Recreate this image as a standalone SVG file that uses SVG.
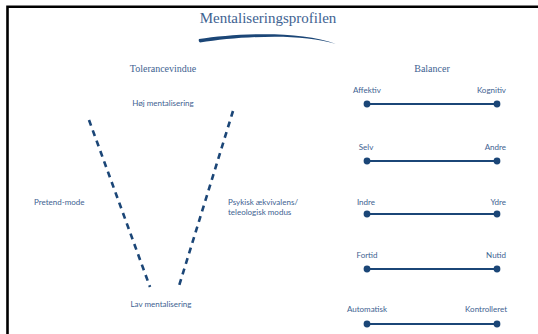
<svg xmlns="http://www.w3.org/2000/svg" width="538" height="334" viewBox="0 0 538 334">
<style>
.serif{font-family:"Liberation Serif","DejaVu Serif",serif;fill:#3e6291}
.sans{font-family:"Lato","Liberation Sans",sans-serif;font-size:8px;fill:#3e6291}
.dash{stroke:#1b4677;stroke-width:2.6;stroke-dasharray:6 5;fill:none}
.bar{stroke:#1b4677;stroke-width:2;fill:none}
.dot{fill:#1b4677}
</style>
<defs>
<g id="bal">
<line class="bar" x1="367" y1="0" x2="497" y2="0"/>
<circle class="dot" cx="367" cy="0" r="3.4"/>
<circle class="dot" cx="497" cy="0" r="3.4"/>
</g>
</defs>
<rect x="0" y="0" width="538" height="334" fill="#fff"/>
<g id="frame">
<path d="M7.5 334 V6.8 H538" fill="none" stroke="#000" stroke-width="2.6"/>
</g>
<g id="title">
<text class="serif" x="268" y="23" font-size="15" text-anchor="middle">Mentaliseringsprofilen</text>
<path d="M199 39 C235 33.5 300 30 336 44 C300 32.5 240 36.5 200 42.5 Q198 41 199 39 Z" fill="#1b4677"/>
</g>
<g id="tolerancevindue">
<text class="serif" x="163" y="72" font-size="10" text-anchor="middle">Tolerancevindue</text>
<text class="sans" x="163" y="106" text-anchor="middle">Høj mentalisering</text>
<text class="sans" x="34" y="205">Pretend-mode</text>
<text class="sans" x="228" y="205">Psykisk ækvivalens/</text>
<text class="sans" x="228" y="215">teleologisk modus</text>
<text class="sans" x="161" y="307" text-anchor="middle">Lav mentalisering</text>
</g>
<g id="connectors">
<line class="dash" x1="89" y1="120" x2="150" y2="287"/>
<line class="dash" x1="233" y1="111" x2="179" y2="286"/>
</g>
<g id="balancer">
<text class="serif" x="432" y="72" font-size="10" text-anchor="middle">Balancer</text>
<g id="b1"><use href="#bal" y="104"/><text class="sans" x="367" y="93" text-anchor="middle">Affektiv</text><text class="sans" x="506" y="93" text-anchor="end">Kognitiv</text></g>
<g id="b2"><use href="#bal" y="161"/><text class="sans" x="366" y="150" text-anchor="middle">Selv</text><text class="sans" x="506" y="150" text-anchor="end">Andre</text></g>
<g id="b3"><use href="#bal" y="214"/><text class="sans" x="366" y="205" text-anchor="middle">Indre</text><text class="sans" x="506" y="205" text-anchor="end">Ydre</text></g>
<g id="b4"><use href="#bal" y="269"/><text class="sans" x="367" y="258" text-anchor="middle">Fortid</text><text class="sans" x="506" y="258" text-anchor="end">Nutid</text></g>
<g id="b5"><use href="#bal" y="324"/><text class="sans" x="367" y="312" text-anchor="middle">Automatisk</text><text class="sans" x="507" y="312" text-anchor="end">Kontrolleret</text></g>
</g>
</svg>
